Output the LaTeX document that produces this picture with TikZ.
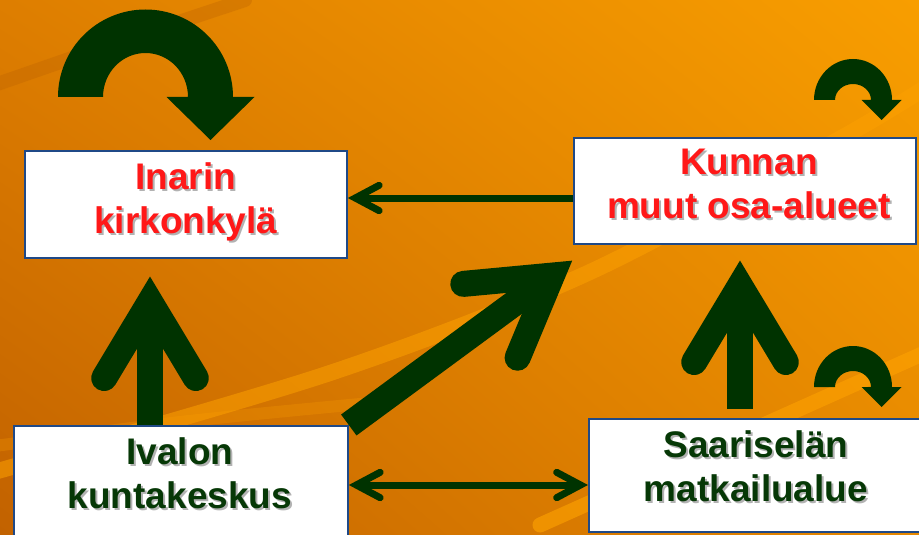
\documentclass[tikz,border=0pt]{standalone}
\usepackage{fontspec}
\setmainfont{Liberation Sans}
\usetikzlibrary{calc,shadings}
\definecolor{arr}{RGB}{0,51,0}
\definecolor{txtred}{RGB}{255,24,24}
\definecolor{txtgreen}{RGB}{6,56,6}
\definecolor{bord}{RGB}{31,73,135}
\definecolor{bgA}{RGB}{222,126,0}
\definecolor{bgB}{RGB}{248,158,0}
\definecolor{bgC}{RGB}{194,98,0}
\definecolor{bgD}{RGB}{230,136,0}
\definecolor{streak}{RGB}{252,160,0}
\definecolor{darkstreak}{RGB}{190,100,0}
\newcommand\chev[6]{%
  \coordinate (chevA) at ($(#2)!#4!(#1)$);
  \draw[arr, line width=#3, line cap=round, line join=miter, miter limit=10]
    ($(chevA)!#5!#6:(#1)$) -- (chevA) -- ($(chevA)!#5!-#6:(#1)$);
}
\newcommand\uturn[8]{%
  \pgfmathsetmacro\usc{#1+(#3+#5)/2}
  \fill[arr] ({#1-#3},{#2}) arc[start angle=180,end angle=0,x radius=#3pt,y radius=#4pt]
    -- ({\usc+#7},{#2}) -- (\usc,{#2-#8}) -- ({\usc-#7},{#2}) -- ({#1+#5},{#2})
    arc[start angle=0,end angle=180,x radius=#5pt,y radius=#6pt] -- cycle;
}
\tikzset{
  box/.style={draw=bord, line width=1.8pt, fill=white, rectangle, inner sep=0pt, anchor=north west},
  lbl/.style={font=\fontsize{37}{44}\selectfont\bfseries, align=center, inner sep=0pt},
  redlbl/.style={lbl, text=txtred},
  grnlbl/.style={lbl, text=txtgreen},
  shadowlbl/.style={lbl, text=black!30, xshift=2pt, yshift=-2pt},
  streakline/.style={streak, line cap=round},
}
\begin{document}
\begin{tikzpicture}[x=1pt,y=1pt]
\useasboundingbox (0,0) rectangle (919,-535);
\shade[upper left=bgA, upper right=bgB, lower left=bgC, lower right=bgD] (0,0) rectangle (919,-535);
\begin{scope}
  \clip (0,0) rectangle (919,-535);
  \draw[streakline, line width=16pt, opacity=0.55] plot[smooth] coordinates {(-20,-476) (330,-373) (590,-272) (843,-137) (950,-72)};
  \draw[streakline, line width=15pt, opacity=0.65] (540,-525) -- (940,-346);
  \draw[streakline, line width=12pt, opacity=0.25] plot[smooth] coordinates {(-20,-448) (180,-422) (360,-404)};
  \draw[darkstreak, line width=14pt, line cap=round, opacity=0.35] plot[smooth] coordinates {(-20,-90) (110,-45) (245,0)};
\end{scope}

% boxes
\node[box, minimum width=322pt, minimum height=107pt] (inar) at (24,-150) {};
\node[box, minimum width=342pt, minimum height=106pt] (kunn) at (573,-137) {};
\node[box, minimum width=334pt, minimum height=130pt] (ival) at (13,-425) {};
\node[box, minimum width=340pt, minimum height=113pt] (sarl) at (588,-418) {};

% helper coordinates
\coordinate (xL) at (150,0);
\coordinate (xR) at (740,0);
\coordinate (yTop) at (0,-198);
\coordinate (yBot) at (0,-485);

% left vertical arrow: Ivalon -> Inarin
\coordinate (aS) at (ival.north -| xL);
\coordinate (aT) at ($(inar.south -| xL)+(0,-18)$);
\draw[arr, line width=26pt] (aS) -- ($(aT)!25pt!(aS)$);
\chev{aS}{aT}{26pt}{25pt}{89pt}{31}

% right vertical arrow: Saariselkä -> Kunnan
\coordinate (bS) at ($(sarl.north -| xR)+(0,9)$);
\coordinate (bT) at ($(kunn.south -| xR)+(0,-16)$);
\draw[arr, line width=26pt] (bS) -- ($(bT)!25pt!(bS)$);
\chev{bS}{bT}{26pt}{25pt}{89pt}{31}

% diagonal arrow: Ivalon -> Kunnan
\coordinate (cS) at (ival.north east);
\coordinate (cT) at ($(kunn.south west)+(-1,-16)$);
\draw[arr, line width=26pt] (cS) -- ($(cT)!25pt!(cS)$);
\chev{cS}{cT}{26pt}{25pt}{89pt}{31}

% top thin arrow: Kunnan -> Inarin
\coordinate (dS) at (kunn.west |- yTop);
\coordinate (dT) at (inar.east |- yTop);
\draw[arr, line width=7pt] (dS) -- ($(dT)!7.5pt!(dS)$);
\chev{dS}{dT}{7pt}{7.5pt}{27pt}{28}

% bottom double arrow: Ivalon <-> Saariselkä
\coordinate (eS) at (ival.east |- yBot);
\coordinate (eT) at (sarl.west |- yBot);
\draw[arr, line width=7pt] ($(eS)!7.5pt!(eT)$) -- ($(eT)!7.5pt!(eS)$);
\chev{eS}{eT}{7pt}{7.5pt}{27pt}{28}
\chev{eT}{eS}{7pt}{7.5pt}{27pt}{28}

% U-turn arrows
\uturn{145.5}{-97}{87.5}{87.5}{42.5}{44}{44}{43}
\uturn{853}{-100}{39}{41}{18}{16}{20}{20}
\uturn{853}{-387}{39}{41}{18}{16}{20}{20}

% labels
\node[shadowlbl] (sinar) at ($(inar.north)+(0,-52.4)$) {Inarin\\kirkonkylä};
\node[redlbl] (tinar) at ($(inar.north)+(0,-52.4)$) {Inarin\\kirkonkylä};
\node[shadowlbl] (skunn) at ($(kunn.north)+(4,-46.75)$) {Kunnan\\muut osa-alueet};
\node[redlbl] (tkunn) at ($(kunn.north)+(4,-46.75)$) {Kunnan\\muut osa-alueet};
\node[shadowlbl] (sival) at ($(ival.north)+(-1,-48)$) {Ivalon\\kuntakeskus};
\node[grnlbl] (tival) at ($(ival.north)+(-1,-48)$) {Ivalon\\kuntakeskus};
\node[shadowlbl] (ssarl) at ($(sarl.north)+(-3,-48.5)$) {Saariselän\\matkailualue};
\node[grnlbl] (tsarl) at ($(sarl.north)+(-3,-48.5)$) {Saariselän\\matkailualue};
\end{tikzpicture}
\end{document}
